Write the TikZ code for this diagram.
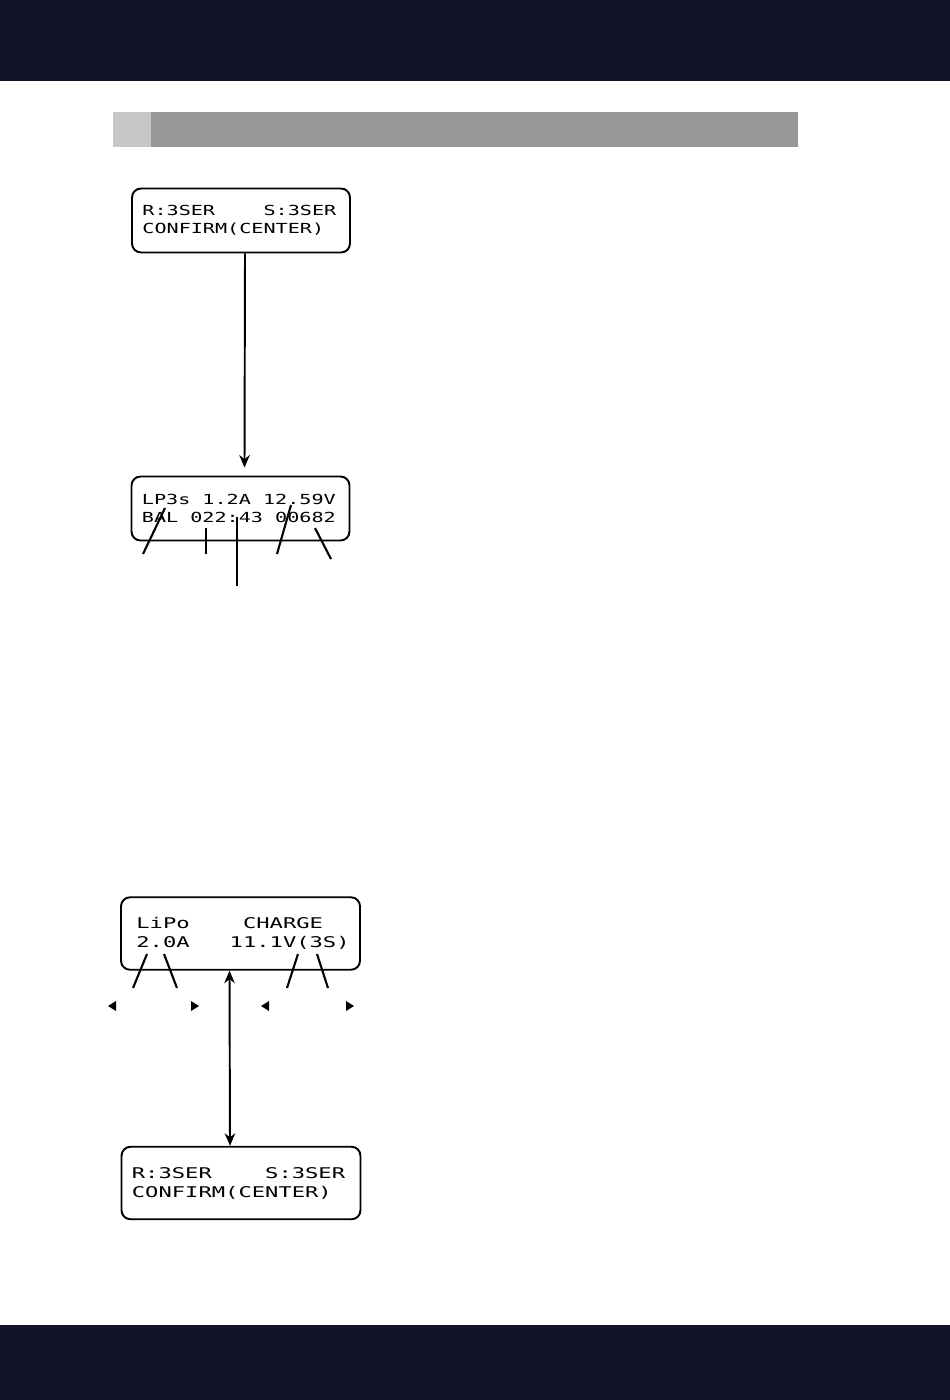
\documentclass[tikz,border=0pt]{standalone}
\usepackage{fontspec}
\usetikzlibrary{arrows.meta}
\newfontfamily\lcdfont[FakeStretch=1.45]{DejaVu Sans Mono}
\newfontfamily\lcdwide[FakeStretch=1.5]{DejaVu Sans Mono}
\definecolor{pagebar}{RGB}{17,19,38}
\definecolor{headdark}{RGB}{153,151,151}
\definecolor{headlight}{RGB}{198,198,198}

\begin{document}
\begin{tikzpicture}[
  x=0.02cm, y=-0.02cm,
  lcd/.style={draw, line width=1.1pt, rounded corners=0.18cm, inner sep=0pt,
    minimum width=4.36cm, minimum height=1.28cm},
  lcdlarge/.style={lcd, minimum width=4.78cm, minimum height=1.45cm},
  lcdtext/.style={anchor=west, inner sep=0pt, align=left,
    font=\lcdfont\fontsize{7.9pt}{10pt}\selectfont},
  lcdbig/.style={lcdtext, font=\lcdwide\fontsize{8.4pt}{10.8pt}\selectfont},
  pointer/.style={line width=1.2pt},
  flow/.style={line width=1.1pt, -{Stealth[length=0.25cm, width=0.21cm]}},
  twoway/.style={line width=1.1pt,
    {Stealth[length=0.25cm, width=0.21cm]}-{Stealth[length=0.25cm, width=0.21cm]}}
]
  \useasboundingbox (0,0) rectangle (950,1400);

  % Page bars.
  \fill[pagebar] (0,0) rectangle (950,81);
  \fill[pagebar] (0,1325) rectangle (950,1400);
  \fill[headlight] (113,112) rectangle (151,147);
  \fill[headdark] (151,112) rectangle (798,147);

  % Confirm screen and charge screen.
  \node[lcd] (boxa) at (241,220.5) {};
  \node[lcdtext] (txta) at ([shift={(11,0)}]boxa.west)
    {R:3SER~~~~S:3SER\\CONFIRM(CENTER)};
  \node[lcd] (boxb) at (240.5,508.5) {};
  \node[lcdtext] (txtb) at ([shift={(11,0)}]boxb.west)
    {LP3s~1.2A~12.59V\\BAL~022:43~00682};
  \draw[flow] ([shift={(4,0)}]boxa.south) -- ([shift={(4,-8)}]boxb.north);

  % Pointers into the charge screen.
  \coordinate (pa1) at (143,554);  \coordinate (pa2) at (165,508);
  \coordinate (pb1) at (206,554);  \coordinate (pb2) at (206,528);
  \coordinate (pc1) at (237,586);  \coordinate (pc2) at (237,517);
  \coordinate (pd1) at (277,554);  \coordinate (pd2) at (291,505);
  \coordinate (pe1) at (331,559);  \coordinate (pe2) at (315,528);
  \foreach \p in {pa,pb,pc,pd,pe}
    \draw[pointer] (\p1) -- (\p2);

  % Program screen and confirm screen.
  \node[lcdlarge] (boxc) at (240.5,933.5) {};
  \node[lcdbig] (txtc) at ([shift={(16,0)}]boxc.west)
    {LiPo~~~~CHARGE\\2.0A~~~11.1V(3S)};
  \node[lcdlarge] (boxd) at (241,1183) {};
  \node[lcdbig] (txtd) at ([shift={(11,0)}]boxd.west)
    {R:3SER~~~~S:3SER\\CONFIRM(CENTER)};
  \draw[twoway] ([shift={(-11,0)}]boxc.south) -- ([shift={(-11,0)}]boxd.north);

  % Pointers and value keys.
  \coordinate (qa1) at (133,988);  \coordinate (qa2) at (147,954);
  \coordinate (qb1) at (177,988);  \coordinate (qb2) at (164,954);
  \coordinate (qc1) at (287,988);  \coordinate (qc2) at (298,954);
  \coordinate (qd1) at (328,988);  \coordinate (qd2) at (317,954);
  \foreach \p in {qa,qb,qc,qd}
    \draw[pointer] (\p1) -- (\p2);
  \foreach \n/\x/\d in {keya/112/-1, keyb/195/1, keyc/265/-1, keyd/350/1}{
    \coordinate (\n) at (\x,1006);
    \fill (\n) ++(4*\d,0) -- ++(-8*\d,-5) -- ++(0,10) -- cycle;
  }
\end{tikzpicture}
\end{document}
